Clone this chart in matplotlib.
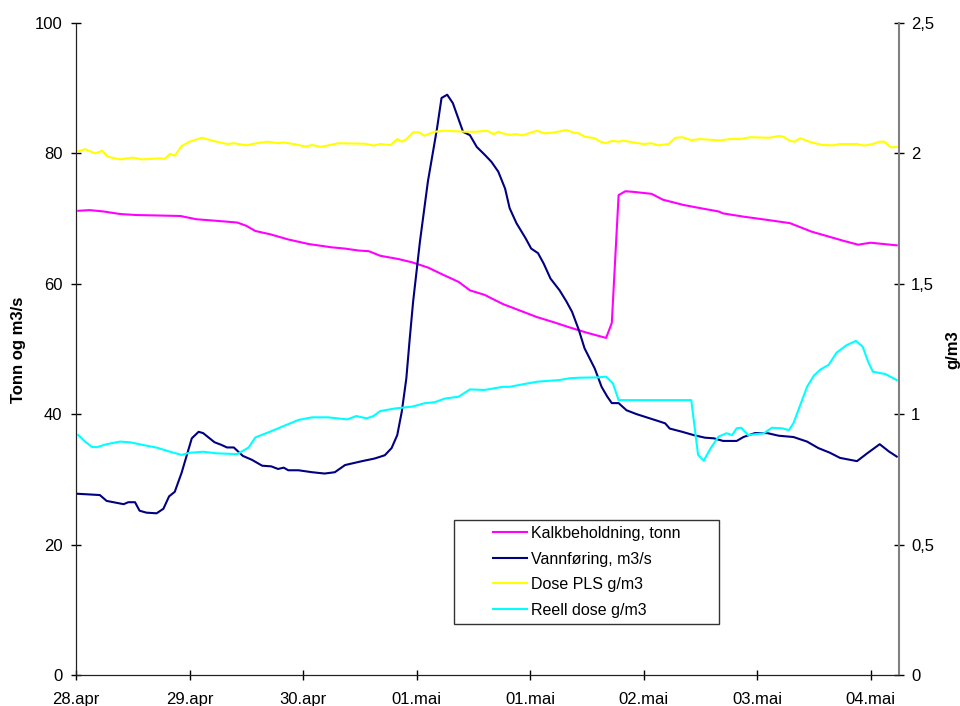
import matplotlib
matplotlib.use("Agg")
import matplotlib.pyplot as plt
from matplotlib.patches import Rectangle

plt.rcParams['font.family'] = ['Liberation Sans', 'DejaVu Sans']

# x = days since 28.apr 00:00
kalk_x = [0.02, 0.12, 0.24, 0.39, 0.53, 0.92, 1.06, 1.21, 1.42, 1.50, 1.58, 1.71, 1.87, 2.05,
          2.25, 2.37, 2.49, 2.58, 2.68, 2.84, 2.96, 3.10, 3.22, 3.37, 3.47, 3.60, 3.76, 3.88,
          4.06, 4.21, 4.35, 4.50, 4.67, 4.72, 4.78, 4.84, 4.91, 5.07, 5.17, 5.35, 5.50, 5.66,
          5.70, 5.88, 6.09, 6.29, 6.48, 6.64, 6.76, 6.89, 7.00, 7.23]
kalk = [71.2, 71.3, 71.1, 70.7, 70.55, 70.4, 69.9, 69.7, 69.4, 68.9, 68.1, 67.6, 66.8, 66.1,
        65.6, 65.4, 65.1, 65.0, 64.3, 63.8, 63.3, 62.5, 61.5, 60.3, 59.0, 58.3, 56.9, 56.1,
        54.9, 54.1, 53.3, 52.5, 51.7, 54.0, 73.6, 74.2, 74.1, 73.8, 72.9, 72.1, 71.6, 71.1,
        70.8, 70.3, 69.8, 69.3, 68.0, 67.2, 66.6, 66.0, 66.3, 65.9]

vann_x = [0.01, 0.21, 0.27, 0.42, 0.46, 0.52, 0.56, 0.62, 0.71, 0.77, 0.82, 0.87, 0.93, 1.02,
          1.08, 1.12, 1.22, 1.28, 1.33, 1.39, 1.47, 1.55, 1.64, 1.72, 1.78, 1.83, 1.87, 1.96,
          2.08, 2.19, 2.28, 2.37, 2.52, 2.63, 2.72, 2.78, 2.83, 2.87, 2.91, 2.94, 2.97, 3.03,
          3.10, 3.18, 3.22, 3.27, 3.32, 3.41, 3.47, 3.53, 3.60, 3.66, 3.72, 3.78, 3.82, 3.88,
          3.96, 4.01, 4.07, 4.12, 4.18, 4.26, 4.32, 4.37, 4.43, 4.48, 4.57, 4.63, 4.68, 4.72,
          4.78, 4.85, 4.94, 5.03, 5.12, 5.19, 5.23, 5.34, 5.44, 5.54, 5.62, 5.70, 5.82, 5.88,
          5.98, 6.09, 6.19, 6.32, 6.44, 6.54, 6.64, 6.73, 6.88, 6.97, 7.08, 7.16, 7.23]
vann = [27.8, 27.6, 26.7, 26.2, 26.5, 26.5, 25.2, 24.9, 24.8, 25.5, 27.4, 28.1, 31.0, 36.3,
        37.3, 37.1, 35.7, 35.3, 34.9, 34.9, 33.6, 33.0, 32.1, 32.0, 31.6, 31.8, 31.4, 31.4,
        31.1, 30.9, 31.1, 32.2, 32.8, 33.2, 33.7, 34.8, 36.8, 40.4, 45.5, 51.6, 57.3, 66.5,
        75.7, 83.8, 88.5, 89.0, 87.7, 83.3, 82.8, 81.0, 79.8, 78.7, 77.2, 74.6, 71.6, 69.3,
        67.0, 65.4, 64.7, 63.1, 60.8, 59.0, 57.3, 55.7, 52.9, 50.1, 47.0, 44.2, 42.7, 41.7,
        41.7, 40.6, 40.0, 39.5, 39.0, 38.6, 37.8, 37.3, 36.8, 36.4, 36.3, 35.9, 35.9, 36.5,
        37.1, 37.1, 36.7, 36.5, 35.8, 34.8, 34.1, 33.3, 32.8, 34.0, 35.4, 34.3, 33.5]

pls_x = [0.01, 0.08, 0.17, 0.23, 0.28, 0.39, 0.50, 0.58, 0.74, 0.78, 0.83, 0.87, 0.93, 1.00,
         1.11, 1.21, 1.33, 1.39, 1.50, 1.59, 1.69, 1.78, 1.83, 1.93, 2.02, 2.08, 2.16, 2.31,
         2.55, 2.62, 2.68, 2.77, 2.83, 2.87, 2.91, 2.97, 3.02, 3.07, 3.16, 3.25, 3.43, 3.52,
         3.62, 3.68, 3.72, 3.76, 3.82, 3.88, 3.93, 4.06, 4.13, 4.21, 4.32, 4.38, 4.43, 4.48,
         4.57, 4.62, 4.67, 4.72, 4.78, 4.82, 4.91, 5.00, 5.07, 5.13, 5.22, 5.28, 5.34, 5.42,
         5.50, 5.67, 5.76, 5.85, 5.94, 6.11, 6.19, 6.23, 6.29, 6.33, 6.38, 6.48, 6.58, 6.67,
         6.73, 6.88, 6.94, 7.01, 7.08, 7.12, 7.18, 7.23]
pls = [2.007, 2.016, 2.000, 2.010, 1.987, 1.977, 1.984, 1.977, 1.981, 1.979, 1.998, 1.991,
       2.028, 2.045, 2.060, 2.048, 2.036, 2.039, 2.031, 2.039, 2.045, 2.039, 2.042, 2.035,
       2.026, 2.032, 2.025, 2.039, 2.037, 2.030, 2.036, 2.032, 2.055, 2.045, 2.054, 2.081,
       2.081, 2.068, 2.083, 2.087, 2.083, 2.083, 2.087, 2.074, 2.083, 2.077, 2.071, 2.074,
       2.069, 2.087, 2.077, 2.080, 2.090, 2.080, 2.077, 2.064, 2.058, 2.045, 2.039, 2.048,
       2.045, 2.049, 2.042, 2.036, 2.039, 2.031, 2.036, 2.060, 2.062, 2.051, 2.055, 2.050,
       2.055, 2.055, 2.062, 2.060, 2.067, 2.064, 2.048, 2.045, 2.058, 2.042, 2.032, 2.031,
       2.036, 2.036, 2.030, 2.035, 2.045, 2.045, 2.023, 2.025]

reell_x = [0.02, 0.08, 0.14, 0.18, 0.27, 0.39, 0.48, 0.59, 0.71, 0.83, 0.93, 1.00, 1.12, 1.24,
           1.42, 1.52, 1.58, 1.71, 1.87, 1.96, 2.08, 2.22, 2.39, 2.47, 2.56, 2.62, 2.68, 2.81,
           2.96, 3.07, 3.16, 3.25, 3.37, 3.47, 3.60, 3.76, 3.82, 3.94, 4.07, 4.26, 4.35, 4.44,
           4.59, 4.67, 4.73, 4.78, 5.42, 5.48, 5.53, 5.59, 5.66, 5.73, 5.78, 5.82, 5.86, 5.92,
           6.06, 6.13, 6.22, 6.28, 6.32, 6.38, 6.44, 6.50, 6.56, 6.63, 6.70, 6.79, 6.87, 6.93,
           6.98, 7.02, 7.13, 7.23]
reell = [0.920, 0.895, 0.875, 0.873, 0.885, 0.895, 0.892, 0.882, 0.872, 0.856, 0.844, 0.852,
         0.856, 0.850, 0.847, 0.872, 0.911, 0.933, 0.962, 0.978, 0.988, 0.988, 0.980, 0.993,
         0.984, 0.993, 1.012, 1.022, 1.029, 1.042, 1.046, 1.060, 1.067, 1.095, 1.093, 1.105,
         1.105, 1.115, 1.125, 1.131, 1.138, 1.140, 1.141, 1.144, 1.118, 1.054, 1.054, 0.844,
         0.822, 0.869, 0.914, 0.927, 0.920, 0.946, 0.948, 0.920, 0.927, 0.948, 0.946, 0.939,
         0.965, 1.035, 1.105, 1.148, 1.172, 1.189, 1.236, 1.265, 1.281, 1.259, 1.199, 1.163,
         1.154, 1.131]

day_labels = ['28.apr', '29.apr', '30.apr', '01.mai', '01.mai', '02.mai', '03.mai', '04.mai']
left_ticks = [0, 20, 40, 60, 80, 100]
right_ticks = [0, 0.5, 1, 1.5, 2, 2.5]
right_labels = ['0', '0,5', '1', '1,5', '2', '2,5']

fig = plt.figure(figsize=(9.6, 7.06), dpi=100)
ax = fig.add_axes([76/960, 31/706, 823/960, 652/706])
ax2 = ax.twinx()

l1, = ax.plot(kalk_x, kalk, color='#FF00FF', lw=1.5, label='Kalkbeholdning, tonn')
l2, = ax.plot(vann_x, vann, color='#000080', lw=1.5, label='Vannføring, m3/s')
l3, = ax2.plot(pls_x, pls, color='#FFFF00', lw=1.5, label='Dose PLS g/m3')
l4, = ax2.plot(reell_x, reell, color='#00FFFF', lw=1.5, label='Reell dose g/m3')

ax.set_xlim(0, 7.25)
ax.set_ylim(0, 100)
ax2.set_ylim(0, 2.5)
ax.set_xticks(range(len(day_labels)))
ax.set_xticklabels(day_labels)
ax.set_yticks(left_ticks)
ax2.set_yticks(right_ticks)
ax2.set_yticklabels(right_labels)

ax.tick_params(axis='x', direction='inout', length=7, width=1, pad=8.5, labelsize=12)
ax.tick_params(axis='y', direction='inout', length=6.5, width=1, pad=6.5, labelsize=12)
ax2.tick_params(axis='y', direction='inout', length=6.5, width=1, pad=5.5, labelsize=12)

for a in (ax, ax2):
    a.spines['top'].set_visible(False)
    a.spines['left'].set_color('#202020')
    a.spines['bottom'].set_color('#202020')
ax2.spines['right'].set_color('#808080')
ax2.spines['right'].set_linewidth(1.5)
ax.spines['right'].set_visible(False)

fig.text(19/960, 1 - 350/706, 'Tonn og m3/s', rotation=90, ha='center', va='center',
         fontsize=12, fontweight='bold')
fig.text(953/960, 1 - 350/706, 'g/m3', rotation=90, ha='center', va='center',
         fontsize=12, fontweight='bold')

# legend frame drawn separately, legend itself frameless
ax2.add_patch(Rectangle(((454-76)/823, (675-624)/652), 265/823, 104/652,
                        transform=ax2.transAxes, facecolor='white', edgecolor='#333333',
                        lw=1, zorder=5))
leg = ax2.legend(handles=[l1, l2, l3, l4], loc='upper left',
                 bbox_to_anchor=((493-76)/823, (675-526)/652), frameon=False,
                 borderpad=0, borderaxespad=0, handlelength=2.1, handletextpad=0.3,
                 labelspacing=0.66, fontsize=11.5)
leg.set_zorder(6)

fig.savefig('out.png', dpi=100)
